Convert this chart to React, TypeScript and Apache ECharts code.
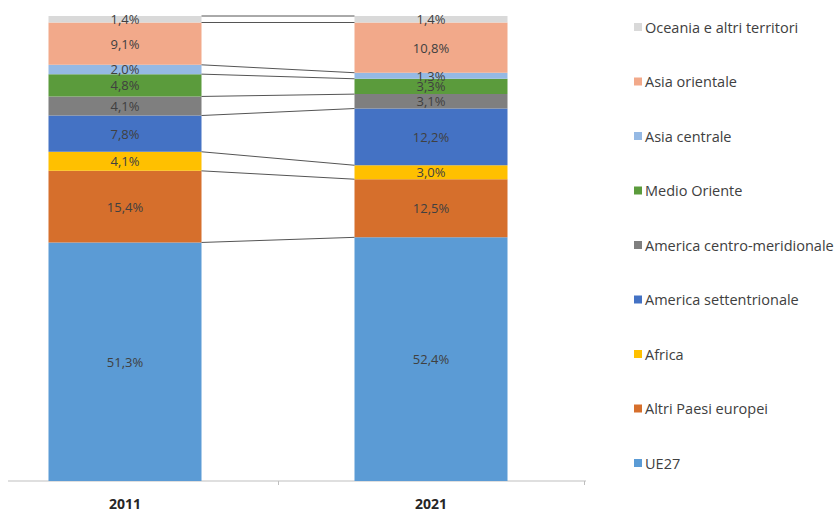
import React, { useEffect, useRef } from "react";
import * as echarts from "echarts";

const years = ["2011", "2021"];
const seriesNames = [
  "UE27",
  "Altri Paesi europei",
  "Africa",
  "America settentrionale",
  "America centro-meridionale",
  "Medio Oriente",
  "Asia centrale",
  "Asia orientale",
  "Oceania e altri territori",
];
const values2011 = [51.3, 15.4, 4.1, 7.8, 4.1, 4.8, 2.0, 9.1, 1.4];
const values2021 = [52.4, 12.5, 3.0, 12.2, 3.1, 3.3, 1.3, 10.8, 1.4];
const colors = [
  "#5B9BD5",
  "#D66F2C",
  "#FFC000",
  "#4472C4",
  "#7F7F7F",
  "#5B9B3C",
  "#95B9E4",
  "#F2A98A",
  "#D9D9D9",
];

const FONT = "Open Sans";
const SHIFT = 28; // the chart's left boundary lies outside the picture

export default function App() {
  const ref = useRef<HTMLDivElement>(null);
  useEffect(() => {
    if (!ref.current) return;
    const chart = echarts.init(ref.current, undefined, { renderer: "svg" });

    const connectors: number[][] = [];
    let c1 = 0;
    let c2 = 0;
    for (let i = 0; i < seriesNames.length; i++) {
      c1 += values2011[i];
      c2 += values2021[i];
      connectors.push([0, Math.round(c1 * 10) / 10, Math.round(c2 * 10) / 10]);
    }

    const barSeries = seriesNames.map((name, i) => ({
      name,
      type: "bar",
      stack: "total",
      barWidth: "50%",
      data: [values2011[i], values2021[i]],
      itemStyle: { color: colors[i] },
      label: {
        show: true,
        position: "inside",
        fontFamily: FONT,
        fontSize: 13,
        color: "#404040",
        formatter: (p: any) => p.value.toFixed(1).replace(".", ",") + "%",
      },
    }));

    chart.setOption({
      animation: false,
      grid: { left: 0, right: 256, top: 16, bottom: 30 },
      xAxis: {
        type: "category",
        data: years,
        axisLine: { show: false },
        axisTick: { show: true, length: 4, lineStyle: { color: "#bfbfbf" } },
        axisLabel: {
          fontFamily: FONT,
          fontSize: 14,
          fontWeight: "bold",
          color: "#262626",
          margin: 15,
        },
      },
      yAxis: { type: "value", min: 0, max: 100, show: false },
      legend: {
        orient: "vertical",
        left: 629 + SHIFT,
        top: 14,
        icon: "rect",
        itemWidth: 8,
        itemHeight: 8,
        itemGap: 38.5,
        data: [...seriesNames].reverse(),
        textStyle: {
          fontFamily: FONT,
          fontSize: 14.5,
          color: "#404040",
          lineHeight: 16,
          padding: [0, 0, 0, -2],
        },
      },
      graphic: [
        {
          type: "line",
          shape: { x1: 8 + SHIFT, y1: 481, x2: 586 + SHIFT, y2: 481 },
          style: { stroke: "#bfbfbf", lineWidth: 1 },
        },
      ],
      series: [
        ...barSeries,
        {
          type: "custom",
          name: "connectors",
          encode: { x: 0, y: [1, 2] },
          data: connectors,
          silent: true,
          z: 5,
          renderItem: (params: any, api: any) => {
            const p0 = api.coord([0, api.value(1)]);
            const p1 = api.coord([1, api.value(2)]);
            const bw = api.size([1, 0])[0] * 0.5;
            return {
              type: "line",
              shape: {
                x1: p0[0] + bw / 2,
                y1: p0[1],
                x2: p1[0] - bw / 2,
                y2: p1[1],
              },
              style: { stroke: "#555", lineWidth: 1 },
            };
          },
        },
      ],
    });
    return () => chart.dispose();
  }, []);
  return (
    <div
      ref={ref}
      style={{
        position: "absolute",
        left: -SHIFT,
        top: 0,
        width: 840 + SHIFT,
        height: 511,
      }}
    />
  );
}
